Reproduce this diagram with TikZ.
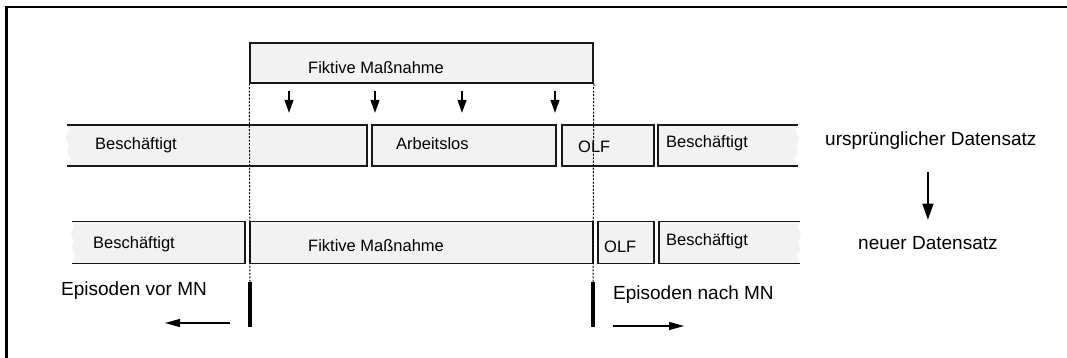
\documentclass[tikz,border=0pt]{standalone}
\usepackage{fontspec}
\setmainfont{Liberation Sans}
\usepackage{tikz}
\usetikzlibrary{arrows.meta}
\usetikzlibrary{positioning}
\tikzstyle{box} = [rectangle, draw=black!90, line width=1.5pt, fill=black!5, inner sep=0pt]
\tikzstyle{openbox} = [rectangle, inner sep=0pt]
\tikzstyle{boxline} = [draw=black!90, line width=1.5pt]
\tikzstyle{boxtext} = [inner sep=0pt, anchor=base west, font=\fontsize{16.5}{18}\selectfont]
\tikzstyle{sidetext} = [inner sep=0pt, anchor=base west, font=\fontsize{19}{22}\selectfont]
\tikzstyle{arrow} = [line width=1.3pt, -{Triangle[length=13pt,width=9pt]}]
\tikzstyle{thinarrow} = [line width=1.1pt, -{Triangle[length=15pt,width=8pt]}]
\tikzstyle{marker} = [line width=1pt, dash pattern=on 2pt off 1.5pt]
\tikzstyle{bar} = [line width=4pt]

\begin{document}
\begin{tikzpicture}[x=1pt, y=-1pt]
    \useasboundingbox (0,0) rectangle (1067,358);
    \draw [line width=2.2pt] (1067,7) -- (6.5,7) -- (6.5,358);

    % Massnahme oben
    \node (FM0) [box, minimum width=343pt, minimum height=40pt] at (421.5,63) {};
    \node (tFM0) [boxtext] at (308,74) {Fiktive Maßnahme};

    % urspruenglicher Datensatz
    \node (B1) [openbox, minimum width=300pt, minimum height=41pt] at (217,145.5) {};
    \node (AL) [box, minimum width=184pt, minimum height=41pt] at (464,145.5) {};
    \node (OLF1) [box, minimum width=92pt, minimum height=41pt] at (608,145.5) {};
    \node (B2) [openbox, minimum width=140pt, minimum height=41pt] at (728,145.5) {};

    % neuer Datensatz
    \node (B3) [openbox, minimum width=173pt, minimum height=42pt] at (158.5,242.5) {};
    \node (FM) [box, minimum width=343pt, minimum height=42pt] at (421.5,242.5) {};
    \node (OLF2) [box, minimum width=56pt, minimum height=42pt] at (626,242.5) {};
    \node (B4) [openbox, minimum width=141pt, minimum height=42pt] at (729.5,242.5) {};

    % ausgefranste Enden
    \foreach \b in {B1,B3} {
        \fill [black!5] (\b.north east) -- (\b.north west) -- ++(3,5) -- ++(-4,7) -- ++(3,8)
            -- ++(-2,7) -- ++(4,7) -- (\b.south west) -- (\b.south east) -- cycle;
        \draw [boxline] (\b.north west) -- (\b.north east) -- (\b.south east) -- (\b.south west);
    }
    \foreach \b in {B2,B4} {
        \fill [black!5] (\b.north west) -- (\b.north east) -- ++(-3,6) -- ++(4,7) -- ++(-3,7)
            -- ++(2,8) -- ++(-4,6) -- (\b.south east) -- (\b.south west) -- cycle;
        \draw [boxline] (\b.north east) -- (\b.north west) -- (\b.south west) -- (\b.south east);
    }

    \node (tB1) [boxtext] at (95,150) {Beschäftigt};
    \node (tAL) [boxtext] at (396,150) {Arbeitslos};
    \node (tOLF1) [boxtext] at (578,153) {OLF};
    \node (tB2) [boxtext] at (666,148) {Beschäftigt};
    \node (tB3) [boxtext] at (93,248) {Beschäftigt};
    \node (tFM) [boxtext] at (308,251) {Fiktive Maßnahme};
    \node (tOLF2) [boxtext] at (604,252) {OLF};
    \node (tB4) [boxtext] at (666,245) {Beschäftigt};

    \node (ud) [sidetext] at (825,146) {ursprünglicher Datensatz};
    \node (nd) [sidetext] at (858,249) {neuer Datensatz};
    \node (vor) [sidetext] at (61,295) {Episoden vor MN};
    \node (nach) [sidetext] at (613,299) {Episoden nach MN};

    % Pfeile
    \foreach \x in {289,375,462,555}
        \draw [arrow, shorten <=7pt, shorten >=12pt] (FM0.south -| \x,0) -- (B1.north -| \x,0);
    \draw [arrow, line width=1.3pt, -{Triangle[length=16pt,width=11pt]}, shorten <=22pt, shorten >=16pt]
        (ud.south -| nd.north) -- (nd.north);

    % Grenzen der Massnahme
    \coordinate (barL) at (250,282);
    \coordinate (barR) at (593,282);
    \draw [marker] (FM0.south west) -- (barL);
    \draw [marker] (FM0.south east) -- (barR);
    \draw [bar] (barL) -- ++(0,45);
    \draw [bar] (barR) -- ++(0,45);

    \coordinate (vorS) at (230,323);
    \coordinate (vorE) at (165,323);
    \coordinate (nachS) at (613,326);
    \coordinate (nachE) at (684,326);
    \draw [thinarrow] (vorS) -- (vorE);
    \draw [thinarrow] (nachS) -- (nachE);
\end{tikzpicture}
\end{document}
